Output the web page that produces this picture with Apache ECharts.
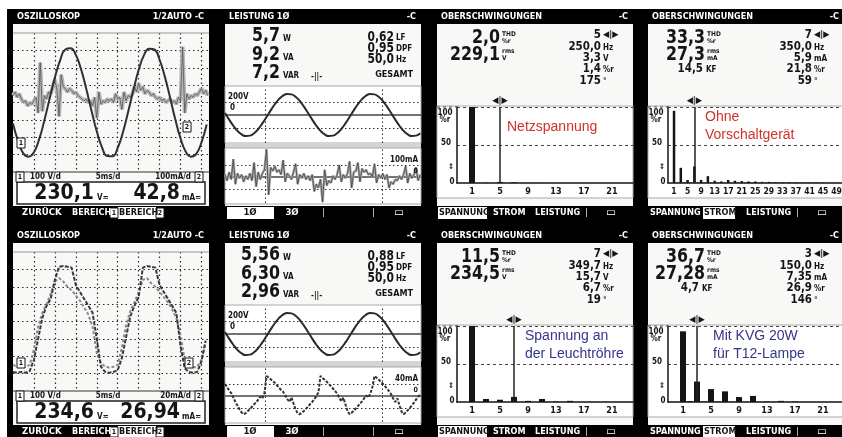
<!DOCTYPE html>
<html><head><meta charset="utf-8">
<script src="https://cdn.jsdelivr.net/npm/echarts@6/dist/echarts.min.js"></script>
<style>html,body{margin:0;padding:0;background:#fff}#c{width:842px;height:437px}</style>
</head><body><div id="c"></div>
<script>
// ================= DATA =================
const scopeTitle = 'OSZILLOSKOP', scopeMode = '1/2AUTO -C';
const scopeScaleTop = ['100 V/d', '5ms/d', '100mA/d'];
const scopeScaleBot = ['100 V/d', '5ms/d', '20mA/d'];
const scopeReadTop = ['230,1', 'V≂', '42,8', 'mA≂'];
const scopeReadBot = ['234,6', 'V≂', '26,94', 'mA≂'];
const scopeMenu = ['ZURÜCK', 'BEREICH', 'BEREICH'];
// top oscilloscope: voltage (div), sample every 0.25 div
const scope1VoltStep = 0.25;
const scope1Voltage = [-1.21,-2.25,-2.94,-3.12,-2.86,-2.11,-1.02,0.23,1.44,2.42,3.05,3.12,2.74,1.91,0.78,-0.48,-1.66,-2.58,-3.08,-3.1,-2.61,-1.71,-0.53,0.72,1.87,2.71,3.1,3.05,2.46,1.49,0.29,-0.97,-2.06,-2.83,-3.12,-2.96,-2.3,-1.27];
// top oscilloscope: current (div), sample every 0.1 div
const scope1CurrStep = 0.1;
const scope1Current = [0.4,0.6,0.3,0.5,0.2,0.0,0.1,-0.2,0.0,-0.1,
 0.1,0.3,-0.6,2.3,-0.5,0.4,0.2,0.6,0.5,0.9,
 1.3,0.7,-0.8,1.6,0.9,0.8,0.6,0.8,0.7,0.5,
 0.6,0.4,0.3,0.2,0.1,0.2,0.0,0.1,-0.2,0.3,
 -0.9,0.6,-0.1,0.1,0.0,0.2,0.1,0.2,0.0,0.5,
 0.2,0.3,-0.4,0.6,0.1,0.4,0.3,0.5,0.9,0.6,
 1.1,0.7,0.9,0.5,0.7,0.6,0.4,0.5,0.3,0.2,
 0.3,0.1,0.2,0.0,0.1,0.2,0.0,0.1,-0.1,0.3,
 0.1,3.2,-0.6,0.5,0.2,0.4,0.3,0.5,0.4,0.6,
 0.8,0.5,0.7,0.4];
// bottom oscilloscope, sample every 0.2 div
const scope2Step = 0.2;
const scope2Voltage = [-2.9,-2.95,-2.9,-2.95,-2.85,-2.2,-1.0,0.2,0.9,1.3,
 2.4,3.15,3.2,3.15,3.1,2.1,1.7,1.3,0.9,0.5,
 -1.0,-2.6,-2.9,-2.95,-2.9,-2.8,-2.1,-0.9,0.3,0.9,
 1.4,3.1,3.2,3.15,3.1,2.1,1.7,1.3,0.9,0.5,
 -1.4,-2.7,-2.9,-2.95,-2.9,-2.3,-1.1];
const scope2Current = [-2.5,-2.6,-2.65,-2.6,-2.5,-1.6,-0.3,0.5,1.0,1.6,
 2.3,2.5,2.3,2.0,1.8,1.5,1.2,0.8,0.4,-0.3,
 -1.8,-2.4,-2.6,-2.65,-2.6,-2.5,-1.5,-0.2,0.6,1.1,
 1.7,2.4,2.5,2.2,2.0,1.7,1.4,1.1,0.7,0.2,
 -0.8,-2.2,-2.6,-2.65,-2.6,-2.2,-1.2];

const powerTitle = 'LEISTUNG 1Ø';
const powerBigTop = ['5,7', '9,2', '7,2'];
const powerBigBot = ['5,56', '6,30', '2,96'];
const powerBigUnits = ['W', 'VA', 'VAR'];
const powerRightTop = ['0,62', '0,95', '50,0'];
const powerRightBot = ['0,88', '0,95', '50,0'];
const powerRightUnits = ['LF', 'DPF', 'Hz'];
const powerTotal = 'GESAMT';
const powerScaleTop = ['200V', '100mA'];
const powerScaleBot = ['200V', '40mA'];
const powerMenu = ['1Ø', '3Ø'];
// voltage in V, one sample per ms
const powerVoltStep = 1;
const powerVoltTop = [31,-71,-165,-244,-298,-324,-317,-280,-215,-129,-31,71,165,244,298,324,317,280,215,129,
 31,-71,-165,-244,-298,-324,-317,-280,-215,-129,-31,71,165,244,298,324,317,280,215,129,
 31,-71,-165,-244,-298,-324,-317,-280];
const powerVoltBot = [31,-71,-165,-244,-298,-324,-317,-280,-215,-129,-31,71,165,244,298,324,317,280,215,129,
 31,-71,-165,-244,-298,-324,-317,-280,-215,-129,-31,71,165,244,298,324,317,280,215,129,
 31,-71,-165,-244,-298,-324,-317,-280];
// current in mA, one sample per 0.5 ms
const powerCurrStep = 0.5;
const powerCurrTop = [20,-30,40,-20,150,-60,30,-10,20,-40,
 10,-20,30,-30,120,-80,40,-20,30,60,
 230,-150,80,50,90,40,60,20,140,-40,
 30,10,-20,40,110,-60,20,-10,30,-20,
 10,-30,20,-120,-60,-90,-20,-210,60,-70,
 -30,-50,10,-20,20,100,-40,20,-10,30,
 130,-90,40,50,120,-40,70,40,60,20,
 30,0,110,-50,20,-10,30,-20,20,-90,
 -40,-60,-20,-30,10,-20,20,90,-50,30,
 -10,20,80,-30,20];
const powerCurrBot = [40,30,18,10,-5,-20,-32,-45,-55,-61,
 -57,-50,-44,-36,-28,-22,-12,-2,-8,10,
 67,62,56,50,44,36,28,20,14,2,
 -10,-20,-5,-25,-45,-58,-61,-56,-50,-43,
 -35,-27,-20,-10,-1,12,67,60,54,48,
 40,33,25,17,8,-5,-18,-6,-28,-50,
 -61,-56,-49,-42,-34,-26,-18,-8,2,-5,
 8,30,67,61,55,48,41,33,25,16,
 6,-8,-20,-8,-30,-52,-61,-55,-48,-40,
 -32,-22,-12,-2,5];

const harmTitle = 'OBERSCHWINGUNGEN';
const harmMenu = ['SPANNUNG', 'STROM', 'LEISTUNG'];
const harmYLabels = ['100', '%r', '50', '⇕', '0'];
const harmTicks21 = [1, 5, 9, 13, 17, 21];
const harmTicks49 = [1, 5, 9, 13, 17, 21, 25, 29, 33, 37, 41, 45, 49];
// harmonic amplitudes in %r, index 0 = harmonic 1
const harmNetz = [100,0,0.3,0,1.4,0,0.8,0,0.2,0,0.2,0,0,0,0,0,0,0,0,0,0,0,0,0];
const harmOhne = [95,0.5,20,0.5,4,0.5,21.8,0.5,4,0.4,
 9,0.3,3,0.3,2,0.3,4,0.3,3,0.3,
 2.5,0.3,2,0.3,2,0.3,1.5,0.3,1.5,0.3,
 1,0.3,1,0.3,1,0.2,0.8,0.2,0.6,0.2,
 0.6,0.2,0.5,0.2,0.5,0.2,0.4,0.2,0.4,0.2];
const harmRoehre = [100,0,4,0,3,0,6.7,0,1.5,0,4,0,0.5,0,1.5,0,0,0,0,0,0,0,0,0];
const harmKVG = [93,1,26.9,0.5,17,0.3,14,0.3,6.5,0.3,8,0.2,0.5,0.2,1.5,0.2,0.5,0,0,0,0,0,0,0];
const harmBigNetz = ['2,0', '229,1'], harmBigOhne = ['33,3', '27,3'], harmBigRoehre = ['11,5', '234,5'], harmBigKVG = ['36,7', '27,28'];
const harmRightNetz = ['5', '250,0', '3,3', '1,4', '175'];
const harmRightOhne = ['7', '350,0', '5,9', '21,8', '59'];
const harmRightRoehre = ['7', '349,7', '15,7', '6,7', '19'];
const harmRightKVG = ['3', '150,0', '7,35', '26,9', '146'];
const harmUnitsV = ['◀|▶', 'Hz', 'V', '%r', '°'];
const harmUnitsA = ['◀|▶', 'Hz', 'mA', '%r', '°'];
const harmCursor = [5, 7, 7, 3];
const noteNetz = ['Netzspannung'];
const noteOhne = ['Ohne', 'Vorschaltgerät'];
const noteRoehre = ['Spannung an', 'der Leuchtröhre'];
const noteKVG = ['Mit KVG 20W', 'für T12-Lampe'];

// ================= LAYOUT / STYLE =================
const FC = '"DejaVu Sans Condensed","DejaVu Sans",sans-serif';
const FS = '"Liberation Sans",Arial,Helvetica,sans-serif';
const INK = '#151515', LCD = '#f8f8f6';
const ROW = [0, 219], COL = [13, 225, 437, 648];
const G = [];
function txt(x, y, s, o) {
  o = o || {};
  G.push({ type: 'text', x: x, y: y, z: o.z || 50, scaleX: o.sx || 1, silent: true,
    style: { text: s, fill: o.fill || INK, font: o.font || ('bold 9px ' + FC),
      textAlign: o.align || 'left', textVerticalAlign: 'middle' } });
}
function rect(x, y, w, h, o) {
  G.push({ type: 'rect', z: (o.z !== undefined ? o.z : -2), silent: true, shape: { x: x, y: y, width: w, height: h },
    style: { fill: o.fill || 'none', stroke: o.stroke || null, lineWidth: o.lw || 1, lineDash: o.dash || null } });
}
function line(x1, y1, x2, y2, o) {
  G.push({ type: 'line', z: o.z || 20, silent: true, shape: { x1: x1, y1: y1, x2: x2, y2: y2 },
    style: { stroke: o.stroke || INK, lineWidth: o.lw || 1, lineDash: o.dash || null } });
}
function boxMark(x, yc, s) {
  rect(x, yc - 5, 8, 10, { fill: '#fff', stroke: INK, z: 40 });
  txt(x + 4, yc + 0.5, s, { align: 'center', font: 'bold 7px ' + FC, z: 41 });
}
function header(X, R, title, right) {
  txt(X + 4, R + 17, title, { fill: '#fff', font: 'bold 9px ' + FC });
  txt(X + 191, R + 17, right, { fill: '#fff', font: 'bold 9px ' + FC, align: 'right' });
}

const option = { backgroundColor: '#000', animation: false, grid: [], xAxis: [], yAxis: [], series: [], graphic: { elements: G } };
function hAxis(min, max, extra) {
  return Object.assign({ type: 'value', min: min, max: max, axisLine: { show: false }, axisTick: { show: false },
    axisLabel: { show: false }, splitLine: { show: false } }, extra || {});
}
function addGrid(left, top, width, height, xa, ya) {
  const i = option.grid.length;
  option.grid.push({ left: left, top: top, width: width, height: height, containLabel: false, outerBoundsMode: 'none', show: false });
  xa.gridIndex = i; ya.gridIndex = i;
  option.xAxis.push(xa); option.yAxis.push(ya);
  return i;
}
function pairs(arr, step) { return arr.map(function (v, i) { return [+(i * step).toFixed(3), v]; }); }

// page margins
rect(0, 0, 842, 9, { fill: '#fff', z: -5 });
rect(0, 0, 7, 437, { fill: '#fff', z: -5 });

// ---------------- oscilloscope panels ----------------
function scopePanel(r, scale, read, series, marks) {
  const X = COL[0], R = ROW[r];
  header(X, R, scopeTitle, scopeMode);
  rect(X, R + 24, 196, 182, { fill: LCD, z: -3 });
  line(X, R + 33, X + 196, R + 33, { stroke: '#999' });
  line(X, R + 172, X + 196, R + 172, { stroke: '#333', lw: 1.2 });
  const dots = { show: true, showMinLine: false, showMaxLine: false, lineStyle: { color: '#2a2a2a', type: [1.5, 3], width: 1.2 } };
  const gi = addGrid(X, R + 33, 196, 139,
    hAxis(0, 9.36, { interval: 1, splitLine: dots }),
    hAxis(-4, 4, { interval: 1, splitLine: dots }));
  series.forEach(function (s) { s.xAxisIndex = gi; s.yAxisIndex = gi; s.type = 'line'; s.symbol = 'none'; s.silent = true; option.series.push(s); });
  boxMark(X + 4, R + marks[0], '1');
  boxMark(X + marks[1], R + marks[2], '2');
  boxMark(X + 3, R + 177, '1');
  txt(X + 17, R + 177, scale[0], { font: 'bold 8px ' + FC });
  txt(X + 95, R + 177, scale[1], { font: 'bold 8px ' + FC, align: 'center' });
  txt(X + 178, R + 177, scale[2], { font: 'bold 8px ' + FC, align: 'right' });
  boxMark(X + 182, R + 177, '2');
  rect(X + 4, R + 182, 188, 22, { fill: '#fff', stroke: '#222', lw: 1.5, z: -2 });
  txt(X + 81, R + 194, read[0], { font: 'bold 21px ' + FC, align: 'right' });
  txt(X + 84, R + 198, read[1], { font: 'bold 8px ' + FC });
  txt(X + 167, R + 194, read[2], { font: 'bold 21px ' + FC, align: 'right' });
  txt(X + 169, R + 198, read[3], { font: 'bold 8px ' + FC });
  // menu
  txt(X + 9, R + 213, scopeMenu[0], { fill: '#fff', font: 'bold 9.5px ' + FC });
  txt(X + 59, R + 213, scopeMenu[1], { fill: '#fff', font: 'bold 9px ' + FC });
  boxMark(X + 97, R + 213, '1');
  rect(X + 105, R + 207, 38, 12, { fill: '#fff', z: 30 });
  txt(X + 106, R + 213, scopeMenu[2], { font: 'bold 9px ' + FC });
  boxMark(X + 143, R + 213, '2');
}
scopePanel(0, scopeScaleTop, scopeReadTop, [
  { data: pairs(scope1Current, scope1CurrStep), lineStyle: { color: '#b8b8b8', width: 4 }, z: 3 },
  { data: pairs(scope1Current, scope1CurrStep), lineStyle: { color: '#555', width: 0.8 }, z: 4 },
  { data: pairs(scope1Voltage, scope1VoltStep), smooth: true, lineStyle: { color: '#303030', width: 2 }, z: 5 }
], [143, 170, 127]);
scopePanel(1, scopeScaleBot, scopeReadBot, [
  { data: pairs(scope2Current, scope2Step), lineStyle: { color: '#8a8a8a', width: 2, type: [3, 2] }, z: 3 },
  { data: pairs(scope2Voltage, scope2Step), lineStyle: { color: '#3a3a3a', width: 2, type: [4, 1.5] }, z: 4 }
], [144, 172, 144]);

// ---------------- power panels ----------------
function powerPanel(r, big, right, scale, volt, curr, currRange, currStyle) {
  const X = COL[1], R = ROW[r];
  header(X, R, powerTitle, '-C');
  rect(X, R + 24, 196, 182, { fill: LCD, z: -3 });
  const bigY = [36, 55, 73];
  big.forEach(function (s, i) {
    txt(X + 55, R + bigY[i], s, { align: 'right', font: 'bold 20px ' + FC, sx: 0.88 });
    txt(X + 58, R + bigY[i] + 3, powerBigUnits[i], { font: 'bold 8px ' + FC });
  });
  txt(X + 86, R + 77, '-||-', { font: 'bold 8px ' + FC });
  const rY = [37, 48, 59];
  right.forEach(function (s, i) {
    txt(X + 169, R + rY[i], s, { align: 'right', font: 'bold 14px ' + FC, sx: 0.85 });
    txt(X + 171, R + rY[i] + 1, powerRightUnits[i], { font: 'bold 8px ' + FC });
  });
  txt(X + 188, R + 75, powerTotal, { align: 'right', font: 'bold 9px ' + FC });
  rect(X, R + 86, 196, 57, { fill: '#fff', stroke: '#aaa', z: -2 });
  rect(X, R + 143, 196, 5, { fill: '#d4d4d4', z: -2 });
  rect(X, R + 148, 196, 56, { fill: '#fff', stroke: '#aaa', z: -2 });
  txt(X + 3, R + 97, scale[0], { font: 'bold 8px ' + FC });
  txt(X + 5, R + 108, '0', { font: 'bold 8px ' + FC });
  txt(X + 193, R + 160, scale[1], { align: 'right', font: 'bold 8px ' + FC });
  txt(X + 193, R + 171, '0', { align: 'right', font: 'bold 7px ' + FC });
  const dot = { type: [1.5, 2.5], color: '#333', width: 1 };
  const vlines = [{ xAxis: 9.6, lineStyle: dot }, { xAxis: 37.8, lineStyle: dot }];
  const g1 = addGrid(X, R + 87, 196, 56, hAxis(0, 47.2), hAxis(-430, 430));
  option.series.push({ type: 'line', xAxisIndex: g1, yAxisIndex: g1, data: pairs(volt, powerVoltStep), smooth: true, symbol: 'none',
    lineStyle: { color: '#2a2a2a', width: 2 }, z: 5, silent: true,
    markLine: { silent: true, symbol: ['none', 'none'], label: { show: false }, animation: false,
      data: [{ yAxis: 200, lineStyle: dot }, { yAxis: -200, lineStyle: dot }, { yAxis: 0, lineStyle: { type: 'solid', color: '#444', width: 1.5 } }].concat(vlines) } });
  const g2 = addGrid(X, R + 148, 196, 55, hAxis(0, 47.2), hAxis(currRange[0], currRange[1]));
  currStyle.forEach(function (st, k) {
    const s = { type: 'line', xAxisIndex: g2, yAxisIndex: g2, data: pairs(curr, powerCurrStep), symbol: 'none', lineStyle: st, z: 5 + k, silent: true };
    if (k === 0) s.markLine = { silent: true, symbol: ['none', 'none'], label: { show: false }, animation: false,
      data: [{ yAxis: currRange[2], lineStyle: dot }, { yAxis: -currRange[2], lineStyle: dot }, { yAxis: 0, lineStyle: { type: 'solid', color: '#444', width: 1.5 } }].concat(vlines) };
    option.series.push(s);
  });
  rect(X + 2, R + 207, 47, 12, { fill: '#fff', z: 30 });
  txt(X + 25, R + 213, powerMenu[0], { align: 'center', font: 'bold 9.5px ' + FC });
  txt(X + 67, R + 213, powerMenu[1], { fill: '#fff', align: 'center', font: 'bold 9.5px ' + FC });
  txt(X + 97, R + 213, '|', { fill: '#bbb', font: 'bold 9px ' + FC });
  txt(X + 147, R + 213, '|', { fill: '#bbb', font: 'bold 9px ' + FC });
  txt(X + 174, R + 213, '▭', { fill: '#fff', align: 'center', font: 'bold 12px ' + FC });
}
powerPanel(0, powerBigTop, powerRightTop, powerScaleTop, powerVoltTop, powerCurrTop, [-217, 242, 100],
  [{ color: '#a8a8a8', width: 2.5 }, { color: '#444', width: 0.8 }]);
powerPanel(1, powerBigBot, powerRightBot, powerScaleBot, powerVoltBot, powerCurrBot, [-87, 97, 40],
  [{ color: '#333', width: 2, type: [3, 1.5] }]);

// ---------------- harmonic panels ----------------
function harmPanel(c, r, cfg) {
  const X = COL[c], R = ROW[r];
  header(X, R, harmTitle, '-C');
  rect(X, R + 24, 196, 182, { fill: LCD, z: -3 });
  const bx = cfg.bigRight;
  txt(X + bx, R + 38, cfg.big[0], { align: 'right', font: 'bold 20px ' + FC, sx: 0.88 });
  txt(X + bx + 2, R + 34, 'THD', { font: 'bold 6.5px ' + FC });
  txt(X + bx + 2, R + 41, '%r', { font: 'bold 6.5px ' + FC });
  txt(X + bx, R + 55, cfg.big[1], { align: 'right', font: 'bold 20px ' + FC, sx: 0.88 });
  txt(X + bx + 2, R + 51, 'rms', { font: 'bold 6.5px ' + FC });
  txt(X + bx + 2, R + 58, cfg.unit, { font: 'bold 6.5px ' + FC });
  if (cfg.kf) {
    txt(X + cfg.kfRight, R + 69, cfg.kf, { align: 'right', font: 'bold 13px ' + FC, sx: 0.88 });
    txt(X + cfg.kfRight + 3, R + 70, 'KF', { font: 'bold 8px ' + FC });
  }
  const rY = [35, 47, 58, 69, 81];
  cfg.right.forEach(function (s, i) {
    txt(X + 164, R + rY[i], s, { align: 'right', font: 'bold 13px ' + FC, sx: 0.88 });
    txt(X + 166, R + rY[i] + (i === 0 ? 0 : 1), cfg.units[i], { font: (i === 0 ? 'bold 9px ' : 'bold 8px ') + FC });
  });
  // chart box
  rect(X, R + 106, 196, 92, { fill: '#fff', stroke: '#aaa', z: -2 });
  line(X, R + 107, X + 20, R + 107, { stroke: '#444', dash: [3, 3] });
  const yl = [[8, 113], [8, 120], [9, 143], [14, 167], [15, 182]];
  harmYLabels.forEach(function (s, i) {
    txt(X + yl[i][0], R + yl[i][1], s, { align: 'center', font: 'bold 8px ' + FC });
  });
  const gi = addGrid(X + 20, R + 107, 176, 76,
    { type: 'value', min: cfg.xmin, max: cfg.xmax,
      axisLine: { show: true, onZero: false, lineStyle: { color: INK, width: 1.5 } }, axisTick: { show: false },
      axisLabel: { show: true, customValues: cfg.ticks, color: INK, fontFamily: FC, fontWeight: 'bold', fontSize: cfg.tickSize, margin: 4 },
      splitLine: { show: false } },
    { type: 'value', min: 0, max: 100, interval: 50,
      axisLine: { show: true, onZero: false, lineStyle: { color: INK, width: 1.5 } }, axisTick: { show: false },
      axisLabel: { show: false },
      splitLine: { show: true, showMinLine: false, lineStyle: { color: '#444', type: [3, 3], width: 1 } } });
  option.series.push({ type: 'bar', xAxisIndex: gi, yAxisIndex: gi, barWidth: cfg.barWidth, silent: true,
    itemStyle: { color: INK }, data: cfg.data.map(function (v, i) { return [i + 1, v]; }), z: 4,
    markLine: { silent: true, symbol: ['none', 'none'], animation: false,
      lineStyle: { color: '#222', width: 1.5, type: 'solid' },
      label: { show: true, position: 'end', formatter: '◀|▶', color: INK, fontSize: 9, fontWeight: 'bold', fontFamily: FC, distance: 2 },
      data: [{ xAxis: cfg.cursor }] } });
  cfg.note.forEach(function (s, i) {
    txt(X + cfg.noteX, R + cfg.noteY[i], s, { fill: cfg.noteColor, font: '14px ' + FS, z: 60 });
  });
  // menu
  const mx = [2, 56, 98], mw = [47, 30, 46];
  harmMenu.forEach(function (s, i) {
    if (i === cfg.sel) {
      rect(X + mx[i] - 1, R + 207, mw[i] + 2, 12, { fill: '#fff', z: 30 });
      txt(X + mx[i], R + 213, s, { font: 'bold 9px ' + FC });
    } else {
      txt(X + mx[i], R + 213, s, { fill: '#fff', font: 'bold 9px ' + FC });
    }
  });
  txt(X + 148, R + 213, '|', { fill: '#bbb', font: 'bold 9px ' + FC });
  txt(X + 174, R + 213, '▭', { fill: '#fff', align: 'center', font: 'bold 12px ' + FC });
}
harmPanel(2, 0, { big: harmBigNetz, unit: 'V', bigRight: 63, right: harmRightNetz, units: harmUnitsV,
  data: harmNetz, xmin: -1.143, xmax: 24, ticks: harmTicks21, tickSize: 9, barWidth: 6, cursor: harmCursor[0],
  note: noteNetz, noteX: 70, noteY: [127], noteColor: '#d3302b', sel: 0 });
harmPanel(3, 0, { big: harmBigOhne, unit: 'mA', bigRight: 57, kf: '14,5', kfRight: 55, right: harmRightOhne, units: harmUnitsA,
  data: harmOhne, xmin: -0.78, xmax: 51.2, ticks: harmTicks49, tickSize: 8.5, barWidth: 2.5, cursor: harmCursor[1],
  note: noteOhne, noteX: 57, noteY: [117, 135], noteColor: '#d3302b', sel: 1 });
harmPanel(2, 1, { big: harmBigRoehre, unit: 'V', bigRight: 63, right: harmRightRoehre, units: harmUnitsV,
  data: harmRoehre, xmin: -1.143, xmax: 24, ticks: harmTicks21, tickSize: 9, barWidth: 6, cursor: harmCursor[2],
  note: noteRoehre, noteX: 88, noteY: [117, 135], noteColor: '#35358c', sel: 0 });
harmPanel(3, 1, { big: harmBigKVG, unit: 'mA', bigRight: 57, kf: '4,7', kfRight: 51, right: harmRightKVG, units: harmUnitsA,
  data: harmKVG, xmin: -1.143, xmax: 24, ticks: harmTicks21, tickSize: 9, barWidth: 6, cursor: harmCursor[3],
  note: noteKVG, noteX: 65, noteY: [117, 135], noteColor: '#35358c', sel: 1 });

const chart = echarts.init(document.getElementById('c'), null, { renderer: 'canvas' });
chart.setOption(option);
</script></body></html>
